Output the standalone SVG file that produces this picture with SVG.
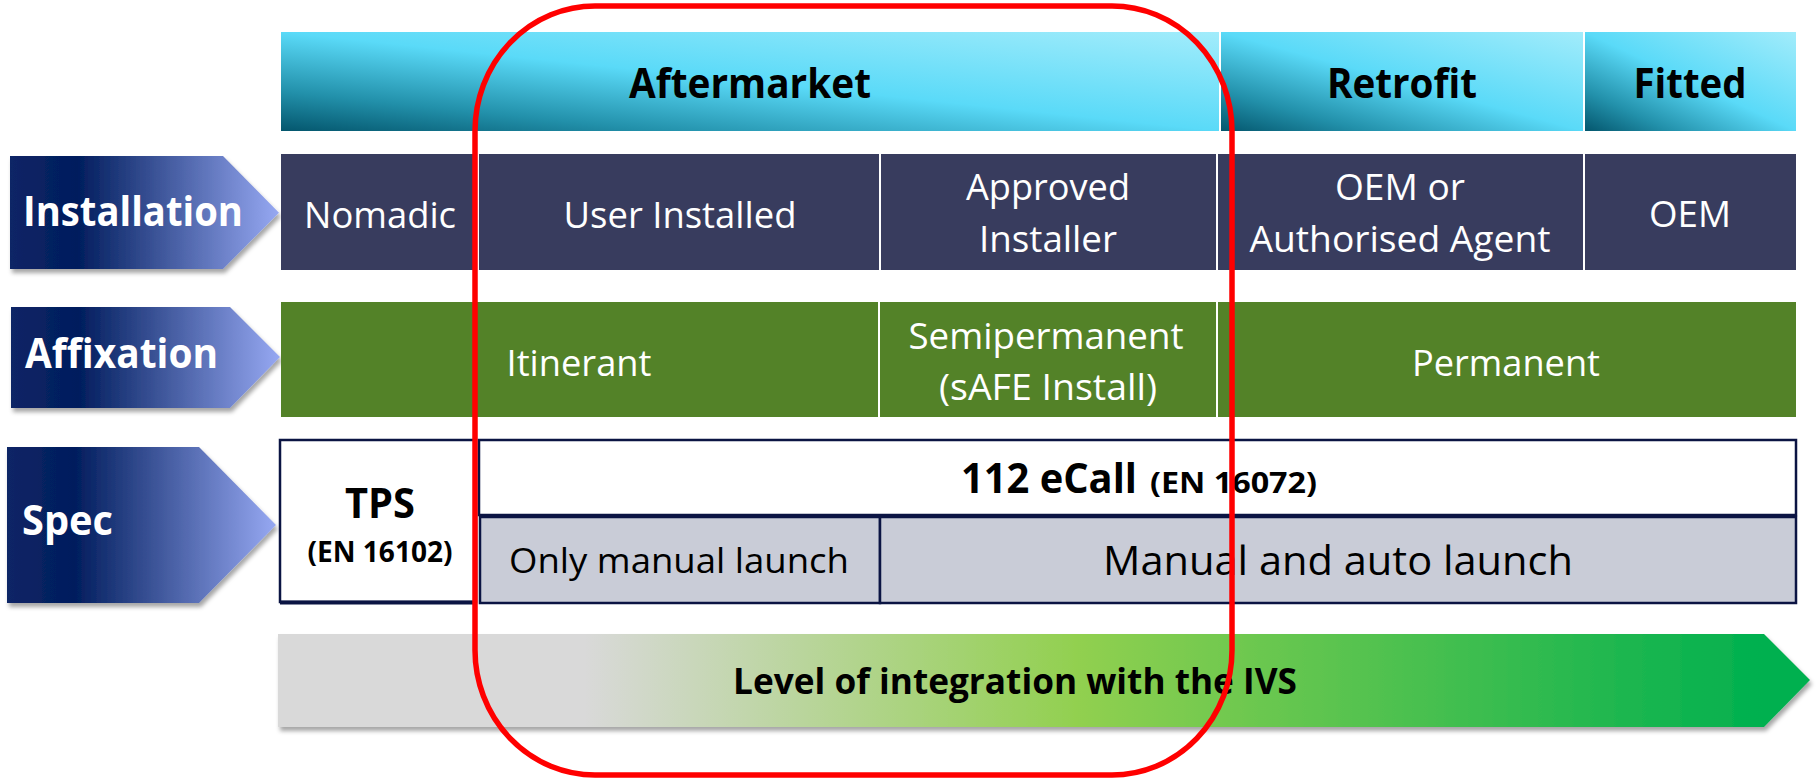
<svg xmlns="http://www.w3.org/2000/svg" width="1816" height="779" viewBox="0 0 1816 779">
  <defs>
    <linearGradient id="gHead" x1="0" y1="1" x2="1" y2="0">
      <stop offset="0" stop-color="#04566d"/>
      <stop offset="0.2" stop-color="#2290aa"/>
      <stop offset="0.5" stop-color="#5adaf8"/>
      <stop offset="1" stop-color="#a2ecfb"/>
    </linearGradient>
    <linearGradient id="gLabel" x1="0" y1="0" x2="1" y2="0">
      <stop offset="0" stop-color="#0d2566"/>
      <stop offset="0.25" stop-color="#011d5d"/>
      <stop offset="1" stop-color="#96a8f2"/>
    </linearGradient>
    <linearGradient id="gLevel" gradientUnits="userSpaceOnUse" x1="278" y1="0" x2="1810" y2="0">
      <stop offset="0" stop-color="#d9d9d9"/>
      <stop offset="0.2" stop-color="#d9d9d9"/>
      <stop offset="0.52" stop-color="#92d050"/>
      <stop offset="0.97" stop-color="#00b050"/>
    </linearGradient>
    <filter id="shadow" x="-5%" y="-10%" width="115%" height="130%">
      <feDropShadow dx="2" dy="4" stdDeviation="2" flood-color="#000" flood-opacity="0.35"/>
    </filter>
  </defs>
  <style>
    text { font-family: "Open Sans", "Liberation Sans", sans-serif; }
    .b { font-weight: 700; }
    .head { fill: url(#gHead); }
    .inst { fill: #383c5e; }
    .affix { fill: #538228; }
    .label { fill: url(#gLabel); filter: url(#shadow); }
    .lt { fill: #ffffff; font-size: 42px; font-weight: 700; }
    .ht { fill: #000000; font-size: 42px; font-weight: 700; text-anchor: middle; }
    .wt { fill: #ffffff; font-size: 36px; text-anchor: middle; }
    .cell { stroke: #0b1443; stroke-width: 2.5; }
    .bk { fill: #000000; text-anchor: middle; }
  </style>

  <!-- row labels -->
  <g id="label-installation">
    <path class="label" d="M10,156 H223 L279,212.7 L223,269 H10 Z"/>
    <text class="lt" x="23" y="226" textLength="220" lengthAdjust="spacingAndGlyphs">Installation</text>
  </g>
  <g id="label-affixation">
    <path class="label" d="M11,307 H230 L280,357 L230,408 H11 Z"/>
    <text class="lt" x="25" y="368" textLength="193" lengthAdjust="spacingAndGlyphs">Affixation</text>
  </g>
  <g id="label-spec">
    <path class="label" d="M7,447 H199 L276,525 L199,603 H7 Z"/>
    <text class="lt" x="22" y="535" textLength="91" lengthAdjust="spacingAndGlyphs">Spec</text>
  </g>

  <!-- market header -->
  <g id="head-aftermarket">
    <rect class="head" x="281" y="32" width="938" height="99"/>
    <text class="ht" x="750" y="98" textLength="242" lengthAdjust="spacingAndGlyphs">Aftermarket</text>
  </g>
  <g id="head-retrofit">
    <rect class="head" x="1221" y="32" width="362" height="99"/>
    <text class="ht" x="1402" y="98" textLength="150" lengthAdjust="spacingAndGlyphs">Retrofit</text>
  </g>
  <g id="head-fitted">
    <rect class="head" x="1585" y="32" width="211" height="99"/>
    <text class="ht" x="1690" y="98" textLength="113" lengthAdjust="spacingAndGlyphs">Fitted</text>
  </g>

  <!-- installation row -->
  <g id="inst-nomadic">
    <rect class="inst" x="281" y="154" width="196" height="116"/>
    <text class="wt" x="380" y="228" textLength="152" lengthAdjust="spacingAndGlyphs">Nomadic</text>
  </g>
  <g id="inst-user">
    <rect class="inst" x="479" y="154" width="400" height="116"/>
    <text class="wt" x="680" y="228" textLength="233" lengthAdjust="spacingAndGlyphs">User Installed</text>
  </g>
  <g id="inst-approved">
    <rect class="inst" x="881" y="154" width="335" height="116"/>
    <text class="wt" x="1048" y="200" textLength="164" lengthAdjust="spacingAndGlyphs">Approved</text>
    <text class="wt" x="1048" y="252" textLength="138" lengthAdjust="spacingAndGlyphs">Installer</text>
  </g>
  <g id="inst-oem-agent">
    <rect class="inst" x="1218" y="154" width="365" height="116"/>
    <text class="wt" x="1400" y="200" textLength="130" lengthAdjust="spacingAndGlyphs">OEM or</text>
    <text class="wt" x="1400" y="252" textLength="301" lengthAdjust="spacingAndGlyphs">Authorised Agent</text>
  </g>
  <g id="inst-oem">
    <rect class="inst" x="1585" y="154" width="211" height="116"/>
    <text class="wt" x="1690" y="227" textLength="82" lengthAdjust="spacingAndGlyphs">OEM</text>
  </g>

  <!-- affixation row -->
  <g id="affix-itinerant">
    <rect class="affix" x="281" y="302" width="597" height="115"/>
    <text class="wt" x="579" y="376" textLength="145" lengthAdjust="spacingAndGlyphs">Itinerant</text>
  </g>
  <g id="affix-semipermanent">
    <rect class="affix" x="880" y="302" width="336" height="115"/>
    <text class="wt" x="1046" y="349" textLength="275" lengthAdjust="spacingAndGlyphs">Semipermanent</text>
    <text class="wt" x="1048" y="400" textLength="218" lengthAdjust="spacingAndGlyphs">(sAFE Install)</text>
  </g>
  <g id="affix-permanent">
    <rect class="affix" x="1218" y="302" width="578" height="115"/>
    <text class="wt" x="1506" y="376" textLength="188" lengthAdjust="spacingAndGlyphs">Permanent</text>
  </g>

  <!-- spec row -->
  <g id="spec-tps">
    <rect class="cell" x="280" y="440" width="196" height="162" fill="#ffffff"/>
    <line x1="280" y1="602.5" x2="476" y2="602.5" stroke="#0b1443" stroke-width="4"/>
    <text class="bk b" x="380" y="518" font-size="41" textLength="70" lengthAdjust="spacingAndGlyphs">TPS</text>
    <text class="bk b" x="380" y="562" font-size="28" textLength="145" lengthAdjust="spacingAndGlyphs">(EN 16102)</text>
  </g>
  <g id="spec-ecall">
    <rect class="cell" x="479" y="440" width="1317" height="75" fill="#ffffff"/>
    <text class="b" x="961" y="493" font-size="41" fill="#000" textLength="176" lengthAdjust="spacingAndGlyphs">112 eCall</text>
    <text class="b" x="1150" y="493" font-size="29" fill="#000" textLength="167" lengthAdjust="spacingAndGlyphs">(EN 16072)</text>
  </g>
  <g id="spec-manual">
    <rect class="cell" x="480" y="517" width="400" height="86" fill="#c9ccd7"/>
    <text class="bk" x="679" y="573" font-size="35" textLength="340" lengthAdjust="spacingAndGlyphs">Only manual launch</text>
  </g>
  <g id="spec-auto">
    <rect class="cell" x="880" y="517" width="916" height="86" fill="#c9ccd7"/>
    <line x1="480" y1="516" x2="1796" y2="516" stroke="#0b1443" stroke-width="4"/>
    <text class="bk" x="1338" y="575" font-size="40" textLength="470" lengthAdjust="spacingAndGlyphs">Manual and auto launch</text>
  </g>

  <!-- integration level arrow -->
  <g id="level-arrow">
    <path d="M278,634 H1764 L1810,680 L1764,727 H278 Z" fill="url(#gLevel)" filter="url(#shadow)"/>
    <text class="bk b" x="1015" y="694" font-size="35" textLength="564" lengthAdjust="spacingAndGlyphs">Level of integration with the IVS</text>
  </g>

  <!-- highlight outline -->
  <g id="connectors">
    <rect x="475" y="6" width="757" height="769" rx="120" ry="125" fill="none" stroke="#ff0000" stroke-width="5.5"/>
  </g>
</svg>
